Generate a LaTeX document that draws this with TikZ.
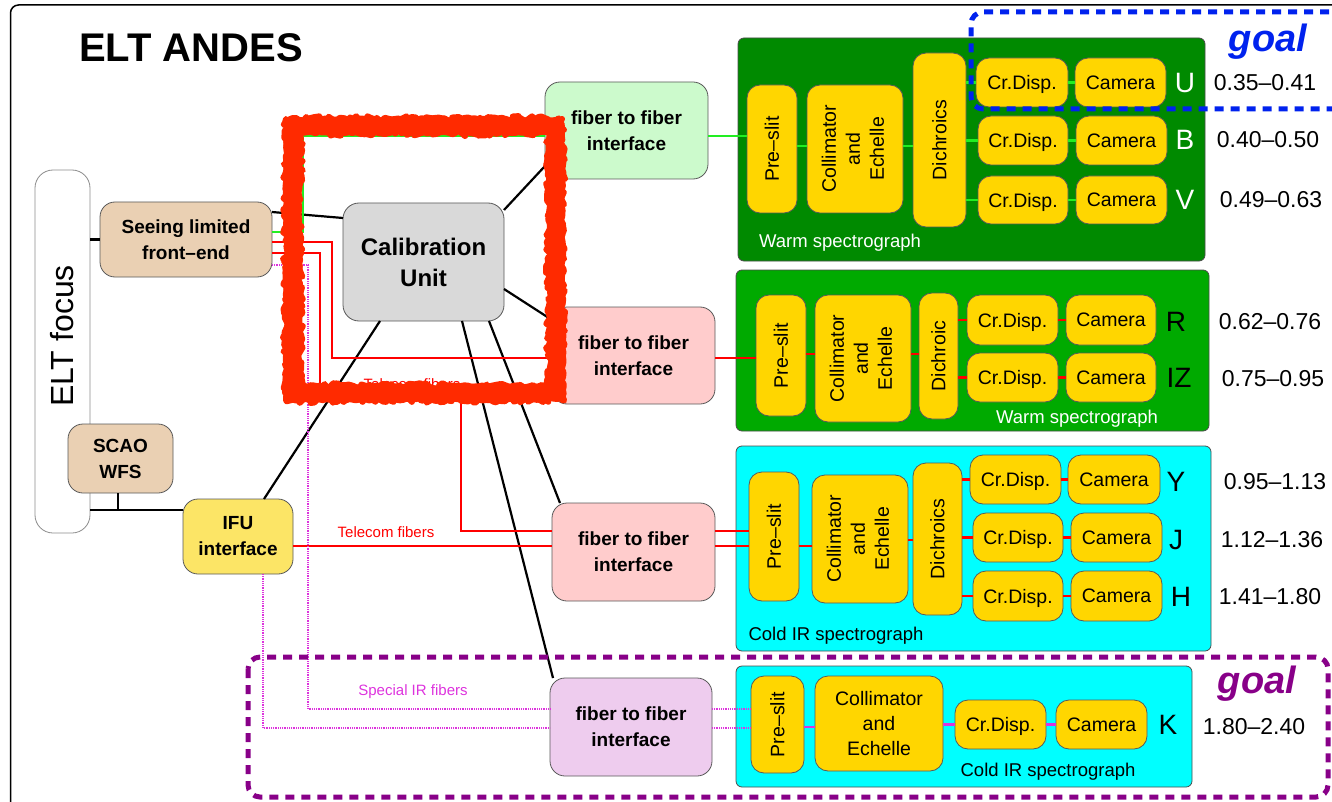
\documentclass[tikz,border=0pt]{standalone}
\usepackage{fontspec}
\setmainfont{Liberation Sans}
\usetikzlibrary{decorations.pathmorphing}
\definecolor{cTan}{HTML}{EAD0B3}
\definecolor{cIFU}{HTML}{FCE566}
\definecolor{cCal}{HTML}{D9D9D9}
\definecolor{cGrnL}{HTML}{CCFACC}
\definecolor{cPink}{HTML}{FFCCCC}
\definecolor{cLav}{HTML}{EECCEE}
\definecolor{cWarmA}{HTML}{008A00}
\definecolor{cWarmB}{HTML}{00AA00}
\definecolor{cCyan}{HTML}{00FFFF}
\definecolor{cGold}{HTML}{FFD600}
\definecolor{cFibG}{HTML}{22EE22}
\definecolor{cMag}{HTML}{DD33DD}
\definecolor{cScrib}{HTML}{FF2A00}
\definecolor{cGoalB}{HTML}{0022EE}
\definecolor{cGoalP}{HTML}{880088}
\newcommand\BX[7]{\node[#6,minimum width={(#4-#2)*1pt},minimum height={(#5-#3)*1pt}] (#1) at ({(#2+#4)/2},{(#3+#5)/2}) {#7};}
\tikzset{
  base/.style={draw=black!65,line width=0.8pt,rounded corners=13pt,inner sep=0pt,outer sep=0pt,align=center,text=black},
  bld/.style={base,font=\bfseries\fontsize{19}{26}\selectfont},
  specbox/.style={draw=black!70,line width=0.8pt,rounded corners=6pt,inner sep=0pt,outer sep=0pt},
  gold/.style={base,fill=cGold,rounded corners=13pt,font=\fontsize{19.5}{24}\selectfont,text depth=0pt},
  conn/.style={line width=2.2pt,black},
  rfib/.style={line width=2.2pt,red},
  gfib/.style={line width=2.2pt,cFibG},
  mfib/.style={line width=1.8pt,cMag,dash pattern=on 1pt off 0.8pt},
  msol/.style={line width=2.2pt,cMag},
  numlbl/.style={font=\fontsize{23}{26}\selectfont,inner sep=0pt},
  bandlbl/.style={font=\fontsize{28}{30}\selectfont,inner sep=0pt},
  speclbl/.style={font=\fontsize{18.5}{22}\selectfont,inner sep=0pt},
  fiblbl/.style={font=\fontsize{15}{18}\selectfont,inner sep=0pt},
  goallbl/.style={font=\bfseries\itshape\fontsize{38}{40}\selectfont,inner sep=0pt},
  goalbox/.style={line width=5pt,dash pattern=on 9pt off 7pt,rounded corners=12pt},
  scrib/.style={cScrib,line width=18pt,line join=round,decorate,decoration={random steps,segment length=5pt,amplitude=1.6pt}},
}
\newcommand\rot[1]{\rotatebox{90}{#1}}
\newcommand\threel{\begin{tabular}{@{}c@{}}Collimator\\and\\Echelle\end{tabular}}
\begin{document}
\begin{tikzpicture}[x=1pt,y=-1pt]
\useasboundingbox (0,0) rectangle (1332,802);
\clip (0,0) rectangle (1332,802);
\pgfmathsetseed{7}
% outer frame
\draw[line width=1.5pt,rounded corners=8pt] (10.5,5) rectangle (1360,830);
\node[font=\bfseries\fontsize{40}{44}\selectfont,inner sep=0pt] (title) at (191,48) {ELT ANDES};

% left blocks
\BX{elt}{35}{170}{90}{533}{base,fill=white,draw=black!45,rounded corners=18pt}{}
\node[inner sep=0pt,font=\fontsize{32}{34}\selectfont] (eltl) at (62,336) {\rot{ELT focus}};
\BX{sl}{100}{202}{272}{277}{bld,fill=cTan,rounded corners=15pt}{Seeing limited\\front--end}
\BX{scao}{68}{424}{173}{493}{bld,fill=cTan,rounded corners=15pt}{SCAO\\WFS}
\BX{ifu}{183}{499}{293}{574}{bld,fill=cIFU,rounded corners=15pt}{IFU\\interface}
\BX{cal}{343}{203}{504}{321}{bld,fill=cCal,rounded corners=16pt,font=\bfseries\fontsize{24}{31}\selectfont}{Calibration\\Unit}
\BX{g1}{545}{82}{708}{179}{bld,fill=cGrnL,rounded corners=15pt}{fiber to fiber\\interface}
\BX{p1}{552}{307}{715}{404}{bld,fill=cPink,rounded corners=15pt}{fiber to fiber\\interface}
\BX{p2}{552}{503}{715}{601}{bld,fill=cPink,rounded corners=15pt}{fiber to fiber\\interface}
\BX{pu}{550}{678}{712}{776}{bld,fill=cLav,rounded corners=15pt}{fiber to fiber\\interface}

% Warm spectrograph 1
\BX{w1}{738}{38}{1205}{261}{specbox,fill=cWarmA}{}
\BX{ps1}{747}{85}{797}{213}{gold}{\rot{Pre--slit}}
\BX{co1}{807}{85}{903}{213}{gold}{\rot{\threel}}
\BX{di1}{913}{53}{966}{227}{gold}{\rot{Dichroics}}
\BX{cdU}{976}{58}{1068}{107}{gold}{Cr.Disp.}
\BX{caU}{1075}{58}{1166}{107}{gold}{Camera}
\BX{cdB}{978}{116}{1068}{165}{gold}{Cr.Disp.}
\BX{caB}{1076}{116}{1167}{165}{gold}{Camera}
\BX{cdV}{978}{176}{1068}{224}{gold}{Cr.Disp.}
\BX{caV}{1076}{176}{1167}{224}{gold}{Camera}
\node[bandlbl,text=white] (lU) at (1185,83) {U};
\node[bandlbl,text=white] (lB) at (1185,140) {B};
\node[bandlbl,text=white] (lV) at (1185,200) {V};
\node[numlbl] (nU) at (1265,83) {0.35--0.41};
\node[numlbl] (nB) at (1268,140) {0.40--0.50};
\node[numlbl] (nV) at (1271,200) {0.49--0.63};
\node[speclbl,text=white] (w1l) at (840,243) {Warm spectrograph};

% Warm spectrograph 2
\BX{w2}{736}{270}{1209}{431}{specbox,fill=cWarmB}{}
\BX{ps2}{756}{295}{806}{416}{gold}{\rot{Pre--slit}}
\BX{co2}{815}{295}{911}{422}{gold}{\rot{\threel}}
\BX{di2}{919}{293}{958}{419}{gold}{\rot{Dichroic}}
\BX{cdR}{967}{295}{1058}{345}{gold}{Cr.Disp.}
\BX{caR}{1066}{295}{1156}{345}{gold}{Camera}
\BX{cdI}{967}{353}{1058}{402}{gold}{Cr.Disp.}
\BX{caI}{1066}{353}{1156}{402}{gold}{Camera}
\node[bandlbl] (lR) at (1176,322) {R};
\node[bandlbl] (lI) at (1179,378) {IZ};
\node[numlbl] (nR) at (1270,322) {0.62--0.76};
\node[numlbl] (nI) at (1273,379) {0.75--0.95};
\node[speclbl,text=white] (w2l) at (1077,419) {Warm spectrograph};

% Cold IR spectrograph 1
\BX{c1}{736}{446}{1211}{651}{specbox,fill=cCyan}{}
\BX{ps3}{749}{472}{799}{601}{gold}{\rot{Pre--slit}}
\BX{co3}{812}{475}{908}{603}{gold}{\rot{\threel}}
\BX{di3}{913}{463}{962}{615}{gold}{\rot{Dichroics}}
\BX{cdY}{970}{455}{1061}{504}{gold}{Cr.Disp.}
\BX{caY}{1068}{455}{1160}{504}{gold}{Camera}
\BX{cdJ}{973}{513}{1063}{562}{gold}{Cr.Disp.}
\BX{caJ}{1071}{513}{1162}{562}{gold}{Camera}
\BX{cdH}{973}{571}{1063}{621}{gold}{Cr.Disp.}
\BX{caH}{1071}{571}{1162}{621}{gold}{Camera}
\node[bandlbl] (lY) at (1176,482) {Y};
\node[bandlbl] (lJ) at (1176,540) {J};
\node[bandlbl] (lH) at (1181,597) {H};
\node[numlbl] (nY) at (1275,482) {0.95--1.13};
\node[numlbl] (nJ) at (1272,540) {1.12--1.36};
\node[numlbl] (nH) at (1270,597) {1.41--1.80};
\node[speclbl] (c1l) at (836,636) {Cold IR spectrograph};

% Cold IR spectrograph 2
\BX{c2}{736}{666}{1192}{787}{specbox,fill=cCyan}{}
\BX{ps4}{751}{676}{804}{773}{gold}{\rot{Pre--slit}}
\BX{co4}{815}{676}{943}{771}{gold,font=\fontsize{19.5}{25}\selectfont}{Collimator\\and\\Echelle}
\BX{cdK}{955}{700}{1046}{749}{gold}{Cr.Disp.}
\BX{caK}{1056}{700}{1147}{749}{gold}{Camera}
\node[bandlbl] (lK) at (1168,725) {K};
\node[numlbl] (nK) at (1254,727) {1.80--2.40};
\node[speclbl] (c2l) at (1048,772) {Cold IR spectrograph};

% internal connectors
\draw[gfib] (ps1.east |- 0,146) -- (co1.west |- 0,146);
\draw[gfib] (co1.east |- 0,146) -- (di1.west |- 0,146);
\foreach \r in {U,B,V}{
  \draw[gfib] (di1.east |- cd\r.west) -- (cd\r.west);
  \draw[gfib] (cd\r.east) -- (ca\r.west);
}
\draw[rfib] (ps2.east |- 0,354) -- (co2.west |- 0,354);
\draw[rfib] (co2.east |- 0,354) -- (di2.west |- 0,354);
\foreach \r in {R,I}{
  \draw[rfib] (di2.east |- cd\r.west) -- (cd\r.west);
  \draw[rfib] (cd\r.east) -- (ca\r.west);
}
\draw[rfib] (ps3.east |- 0,546) -- (co3.west |- 0,546);
\draw[rfib] (co3.east |- 0,540) -- (di3.west |- 0,540);
\foreach \r in {Y,J,H}{
  \draw[rfib] (di3.east |- cd\r.west) -- (cd\r.west);
  \draw[rfib] (cd\r.east) -- (ca\r.west);
}
\draw[msol] (ps4.east |- 0,727) -- (co4.west |- 0,727);
\draw[msol] (co4.east |- cdK.west) -- (cdK.west);
\draw[msol] (cdK.east) -- (caK.west);

% black connectors
\coordinate (jn) at (118,510);
\draw[conn] (elt.east |- sl.west) -- (sl.west);
\draw[conn] (elt.east |- jn) -- (ifu.west |- jn);
\draw[conn] (scao.south -| jn) -- (jn);
\draw[conn] (ifu.north -| 264,0) -- (cal.south -| 380,0);
\draw[conn] (sl.east |- 0,212) -- (cal.west |- 0,218);
\draw[conn] (cal.east |- 0,210) -- (g1.west |- 0,166);
\draw[conn] (cal.east |- 0,289) -- (p1.west |- 0,320);
\draw[conn] (cal.south -| 489,0) -- (p2.north -| 560,0);
\draw[conn] (cal.south -| 462,0) -- (pu.north -| 553,0);

% fibers
\draw[gfib] (sl.east |- 0,232) -| (303,136) -- (g1.west |- 0,136);
\draw[gfib] (g1.east |- 0,136) -- (ps1.west |- 0,136);
\draw[rfib] (sl.east |- 0,242) -| (332,358) -- (p1.west |- 0,358);
\draw[rfib] (p1.east |- 0,358) -- (ps2.west |- 0,358);
\draw[rfib] (sl.east |- 0,253) -| (320,398) -| (461,531) -- (p2.west |- 0,531);
\draw[rfib] (ifu.east |- 0,546) -- (p2.west |- 0,546);
\draw[rfib] (p2.east |- 0,531) -- (ps3.west |- 0,531);
\draw[rfib] (p2.east |- 0,546) -- (ps3.west |- 0,546);
\draw[mfib] (sl.east |- 0,265) -| (308,709) -- (pu.west |- 0,709);
\draw[mfib] (ifu.south -| 263,0) |- (pu.west |- 0,728);
\draw[mfib] (pu.east |- 0,709) -- (ps4.west |- 0,709);
\draw[mfib] (pu.east |- 0,728) -- (ps4.west |- 0,728);
\node[fiblbl,text=red] (tel1) at (386,532) {Telecom fibers};
\node[fiblbl,text=red] (tel2) at (412,384) {Telecom fibers};
\node[fiblbl,text=cMag] (sir) at (413,692) {Special IR fibers};

% goal boxes
\draw[goalbox,cGoalB] (1345,12) -- (971,12) -- (971,109) -- (1345,109);
\node[goallbl,text=cGoalB] (goalb) at (1268,42) {goal};
\draw[goalbox,cGoalP] (248,657) rectangle (1328,797);
\node[goallbl,text=cGoalP] (goalp) at (1257,684) {goal};

% red hand-drawn highlight
\draw[scrib] (293,126) -- (556,126) -- (556,393) -- (293,393) -- cycle;
\draw[cScrib,line width=6pt,line join=round,decorate,decoration={random steps,segment length=3pt,amplitude=3pt}] (286,119) -- (562,119) -- (562,400) -- (286,400) -- cycle;
\draw[cScrib,line width=6pt,line join=round,decorate,decoration={random steps,segment length=3pt,amplitude=3pt}] (300,133) -- (549,133) -- (549,386) -- (300,386) -- cycle;
\end{tikzpicture}
\end{document}
